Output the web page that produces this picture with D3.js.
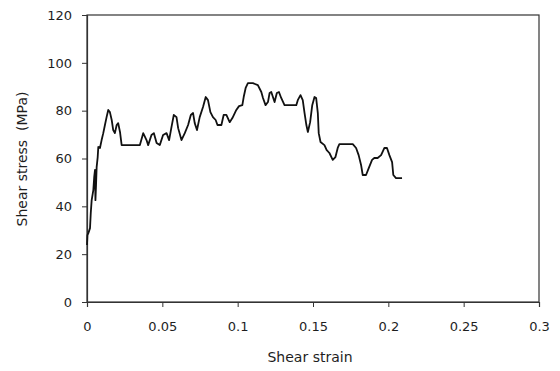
<!DOCTYPE html>
<html>
<head>
<meta charset="utf-8">
<script src="https://cdn.jsdelivr.net/npm/d3@7"></script>
<style>
  html, body { margin: 0; padding: 0; background: #fff; }
  svg { display: block; font-family: "DejaVu Sans", sans-serif; }
</style>
</head>
<body>
<svg id="chart" width="560" height="371"></svg>
<script>
const strain = [0,0.0003,0.0009,0.0020,0.0025,0.0031,0.0042,0.0048,0.0053,0.0056,0.0060,0.0064,0.0071,0.0075,0.0086,0.0097,0.0108,0.0119,0.0130,0.0141,0.0152,0.0164,0.0174,0.0185,0.0197,0.0207,0.0219,0.0230,0.0351,0.0373,0.0395,0.0406,0.0428,0.0444,0.0462,0.0483,0.0505,0.0528,0.0545,0.0561,0.0576,0.0594,0.0605,0.0627,0.0649,0.0671,0.0689,0.0704,0.0715,0.0730,0.0748,0.0770,0.0788,0.0803,0.0819,0.0836,0.0854,0.0866,0.0892,0.0907,0.0925,0.0947,0.0965,0.0991,0.1009,0.1031,0.1040,0.1053,0.1068,0.1101,0.1134,0.1157,0.1168,0.1185,0.1201,0.1212,0.1223,0.1234,0.1245,0.1260,0.1274,0.1289,0.1311,0.1389,0.1399,0.1417,0.1432,0.1444,0.1456,0.1466,0.1481,0.1495,0.1510,0.1521,0.1532,0.1538,0.1550,0.1576,0.1591,0.1609,0.1631,0.1649,0.1664,0.1675,0.1764,0.1786,0.1803,0.1819,0.1830,0.1852,0.1870,0.1892,0.1907,0.1929,0.1952,0.1974,0.1991,0.2007,0.2025,0.2033,0.2051,0.2091];
const stress = [23.8,28.0,28.8,30.9,37.2,42.6,46.8,52.3,55.2,42.6,48.9,56.4,60.6,64.8,64.4,67.7,70.6,74.0,77.3,80.3,79.4,76.1,71.9,70.6,74.0,74.8,71.1,65.6,65.6,70.6,67.7,65.6,69.8,70.6,66.5,65.6,69.8,70.6,67.7,73.2,78.2,77.3,72.7,67.7,70.6,74.0,78.2,79.0,74.8,71.9,77.3,81.5,85.7,84.4,79.4,77.3,76.1,74.0,74.0,78.2,78.2,75.2,76.9,80.3,81.9,82.3,85.7,89.5,91.5,91.5,90.7,87.8,85.3,82.3,83.6,87.4,87.8,85.7,83.6,87.4,87.8,85.3,82.3,82.3,84.4,86.5,84.4,79.0,74.0,71.1,75.2,82.3,85.7,85.3,79.0,70.6,66.9,65.6,63.5,62.3,59.4,60.6,64.4,66.0,66.0,64.4,61.4,57.3,53.1,53.1,56.0,59.4,60.2,60.2,61.4,64.4,64.4,61.4,58.5,53.1,51.8,51.8];
const xTicks = [0, 0.05, 0.1, 0.15, 0.2, 0.25, 0.3];
const xTickLabels = ["0", "0.05", "0.1", "0.15", "0.2", "0.25", "0.3"];
const yTicks = [0, 20, 40, 60, 80, 100, 120];
const xTitle = "Shear strain";
const yTitle = "Shear stress  (MPa)";

const svg = d3.select("#chart");
const L = 87, R = 539, T = 15, B = 302;
const x = d3.scaleLinear().domain([0, 0.3]).range([L, R]);
const y = d3.scaleLinear().domain([0, 120]).range([B, T]);
const ink = "#1e1e1e";
const font = "'DejaVu Sans', sans-serif";

// frame
svg.append("rect").attr("x", L).attr("y", T).attr("width", R - L).attr("height", B - T)
  .attr("fill", "none").attr("stroke", "#333").attr("stroke-width", 1.2);

const xAxis = svg.append("g").attr("transform", `translate(0,${B})`)
  .call(d3.axisBottom(x).tickValues(xTicks).tickFormat((d, i) => xTickLabels[i]).tickSize(5).tickPadding(15));
const yAxis = svg.append("g").attr("transform", `translate(${L},0)`)
  .call(d3.axisLeft(y).tickValues(yTicks).tickSize(5).tickPadding(10));
[xAxis, yAxis].forEach(a => {
  a.select(".domain").attr("stroke", "#333").attr("stroke-width", 1.2);
  a.selectAll(".tick line").attr("stroke", "#333");
  a.selectAll(".tick text").attr("fill", ink).style("font-size", "13px")
    .style("font-family", font);
});

const line = d3.line().x((d, i) => x(strain[i])).y(d => y(d)).curve(d3.curveLinear);
svg.append("path").datum(stress).attr("d", line)
  .attr("fill", "none").attr("stroke", "#111").attr("stroke-width", 1.8)
  .attr("stroke-linejoin", "round");

svg.append("text").attr("x", 310).attr("y", 362).attr("text-anchor", "middle")
  .attr("fill", ink).style("font-size", "14px").style("font-family", font).text(xTitle);
svg.append("text").attr("transform", `translate(27,${159}) rotate(-90)`)
  .attr("text-anchor", "middle").attr("fill", ink).style("font-size", "14px").style("font-family", font)
  .style("white-space", "pre").attr("xml:space", "preserve").text(yTitle);
</script>
</body>
</html>
